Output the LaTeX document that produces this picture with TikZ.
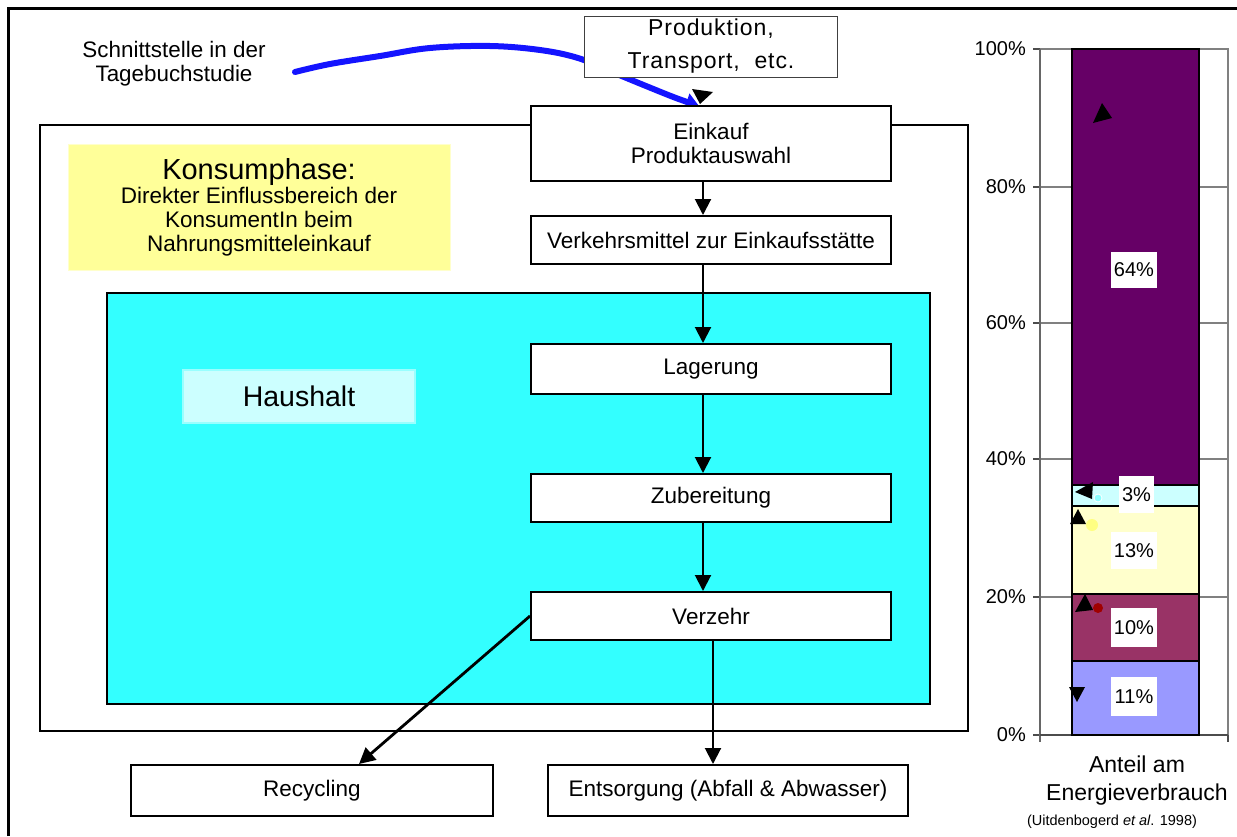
\documentclass[tikz,border=0pt]{standalone}
\usepackage{fontspec}
\setmainfont{Liberation Sans}
\newfontfamily\spaced[LetterSpace=4]{Liberation Sans}
\usetikzlibrary{arrows.meta}

\definecolor{konsumgelb}{RGB}{255,255,153}
\definecolor{konsumrand}{RGB}{255,255,204}
\definecolor{haushaltcyan}{RGB}{51,255,255}
\definecolor{labelcyan}{RGB}{204,255,255}
\definecolor{labelrand}{RGB}{153,255,255}
\definecolor{strichblau}{RGB}{20,20,255}
\definecolor{segA}{RGB}{102,0,102}
\definecolor{segB}{RGB}{204,255,255}
\definecolor{segC}{RGB}{255,255,204}
\definecolor{segD}{RGB}{153,51,102}
\definecolor{segE}{RGB}{153,153,255}
\definecolor{gitter}{RGB}{128,128,128}
\definecolor{punktrot}{RGB}{160,0,0}
\definecolor{punktgelb}{RGB}{255,255,130}
\definecolor{punktcyan}{RGB}{140,255,255}

\newcommand\fs[2]{\fontsize{#1}{#2}\selectfont}

\tikzset{
  box/.style={draw, line width=2pt, fill=white, inner sep=0pt, align=center,
              font=\fs{22.5}{24}},
  arr/.style={line width=2pt, -{Triangle[width=16pt,length=16pt]}},
  pct/.style={fill=white, inner sep=0pt, minimum width=46pt, minimum height=36pt,
              font=\fs{20}{24}},
  axlab/.style={anchor=east, inner sep=0pt, font=\fs{20}{24}},
  seg/.style={draw, line width=2pt},
  gridline/.style={gitter, line width=1.5pt},
  marker/.style={fill=black},
}

\begin{document}
\begin{tikzpicture}[x=1pt,y=-1pt]
\useasboundingbox (0,0) rectangle (1237,836);

% outer frame (top and left edges)
\draw[line width=3pt] (8.5,836) -- (8.5,8.5) -- (1237,8.5);

% consumption phase frame
\draw[line width=2.5pt] (40,125) rectangle (968,731);

% household area
\draw[fill=haushaltcyan, line width=2pt] (107,293) rectangle (930,704);

% yellow caption
\node[fill=konsumgelb, draw=konsumrand, line width=1pt, minimum width=382pt,
      minimum height=126pt, inner sep=0pt, align=center, font=\fs{22.5}{24}] (konsum) at (259,207)
  {{\fs{29}{26}Konsumphase:}\\Direkter Einflussbereich der\\KonsumentIn beim\\Nahrungsmitteleinkauf};

% household label
\node[fill=labelcyan, draw=labelrand, line width=2pt, minimum width=232pt,
      minimum height=53pt, inner sep=0pt, font=\fs{28.5}{30}] (haushalt) at (299,396.5) {Haushalt};

% annotation text and hand-drawn blue stroke
\node[align=center, font=\fs{22.4}{24}, inner sep=0pt] (schnitt) at (174,64)
  {Schnittstelle in der\\Tagebuchstudie};
\coordinate (blauStart) at (295,72);
\coordinate (blauEnde) at (699,106);
\draw[strichblau, line width=6pt, line cap=round,
      -{Triangle[width=17pt,length=13pt]}]
  plot[smooth, tension=0.6] coordinates {(blauStart) (330,64) (380,56) (430,48)
    (490,46) (540,50) (578,58) (612,72) (646,86) (676,98) (blauEnde)};

% process boxes
\node[box, draw=black!75, line width=1pt, minimum width=253pt, minimum height=61pt,
      font=\spaced\fs{23}{33}] (produktion) at (711,46.5) {Produktion,\\Transport,~~etc.};
\fill[marker] (692,89) -- (713,92) -- (700,104) -- cycle;

\node[box, minimum width=360pt, minimum height=75pt] (einkauf) at (711,143.5)
  {Einkauf\\Produktauswahl};
\node[box, minimum width=360pt, minimum height=48pt] (verkehr) at (711,240)
  {Verkehrsmittel zur Einkaufsstätte};
\node[box, minimum width=360pt, minimum height=50pt] (lagerung) at (711,369) {Lagerung};
\node[box, minimum width=360pt, minimum height=48pt] (zubereitung) at (711,498) {Zubereitung};
\node[box, minimum width=360pt, minimum height=48pt] (verzehr) at (711,616) {Verzehr};
\node[box, minimum width=362pt, minimum height=51pt] (recycling) at (312,790.5) {Recycling};
\node[box, minimum width=360pt, minimum height=51pt] (entsorgung) at (728,790.5)
  {Entsorgung (Abfall \& Abwasser)};

% flow arrows
\draw[arr] ([xshift=-8pt]einkauf.south) -- ([xshift=-8pt]verkehr.north);
\draw[arr] ([xshift=-8pt]verkehr.south) -- ([xshift=-8pt]lagerung.north);
\draw[arr] ([xshift=-8pt]lagerung.south) -- ([xshift=-8pt]zubereitung.north);
\draw[arr] ([xshift=-8pt]zubereitung.south) -- ([xshift=-8pt]verzehr.north);
\draw[arr] ([xshift=2pt]verzehr.south) -- ([xshift=2pt]verzehr.south |- entsorgung.north);
\draw[arr, line width=2.8pt] (verzehr.west) -- ([xshift=47pt]recycling.north);

% ---- stacked bar chart: share of energy use ----
\foreach \yy in {187,323,459,597} \draw[gridline] (1040,\yy) -- (1228,\yy);
\draw[gitter, line width=2pt] (1040,49) -- (1228,49) -- (1228,735);
\foreach \yy in {49,187,323,459,597,735} \draw[black!70, line width=1.5pt] (1033,\yy) -- (1040,\yy);
\draw[black!60, line width=2pt] (1040,49) -- (1040,742);
\draw[black!70, line width=2pt] (1040,735) -- (1228,735);
\draw[black!70, line width=1.5pt] (1228,735) -- (1228,742);

\draw[seg, fill=segE] (1072,661) rectangle (1199,735);
\draw[seg, fill=segD] (1072,594) rectangle (1199,661);
\draw[seg, fill=segC] (1072,506) rectangle (1199,594);
\draw[seg, fill=segB] (1072,485) rectangle (1199,506);
\draw[seg, fill=segA] (1072,49) rectangle (1199,485);

% series markers
\fill[marker] (1093,123) -- (1102,103) -- (1112,118) -- cycle;
\fill[marker] (1075,492) -- (1093,482) -- (1092,499) -- cycle;
\fill[marker] (1070,524) -- (1078,509) -- (1086,524) -- cycle;
\fill[marker] (1075,612) -- (1085,594) -- (1093,610) -- cycle;
\fill[marker] (1069,687) -- (1085,687) -- (1077,702) -- cycle;
\filldraw[fill=punktcyan, draw=white, line width=0.8pt] (1098,498) circle (4);
\fill[punktgelb] (1092,525) circle (6);
\fill[punktrot] (1098,608) circle (5);

% value labels
\node[pct] (p64) at (1134,269.5) {64\%};
\node[pct, minimum width=35pt, minimum height=37pt] (p3) at (1136.5,494.5) {3\%};
\node[pct, minimum height=37pt] (p13) at (1134,550.5) {13\%};
\node[pct, minimum height=39pt] (p10) at (1134,627.5) {10\%};
\node[pct, minimum height=39pt] (p11) at (1134,696.5) {11\%};

% axis labels
\node[axlab] (y100) at (1026,49) {100\%};
\node[axlab] (y80) at (1026,187) {80\%};
\node[axlab] (y60) at (1026,323) {60\%};
\node[axlab] (y40) at (1026,459) {40\%};
\node[axlab] (y20) at (1026,597) {20\%};
\node[axlab] (y0) at (1026,735) {0\%};

\node[align=center, font=\fs{23}{28}, inner sep=0pt] (anteil) at (1137,781)
  {Anteil am\\Energieverbrauch};
\node[font=\fs{14.5}{16}, inner sep=0pt] (quelle) at (1112,822)
  {(Uitdenbogerd \textit{et al}. 1998)};
\end{tikzpicture}
\end{document}
